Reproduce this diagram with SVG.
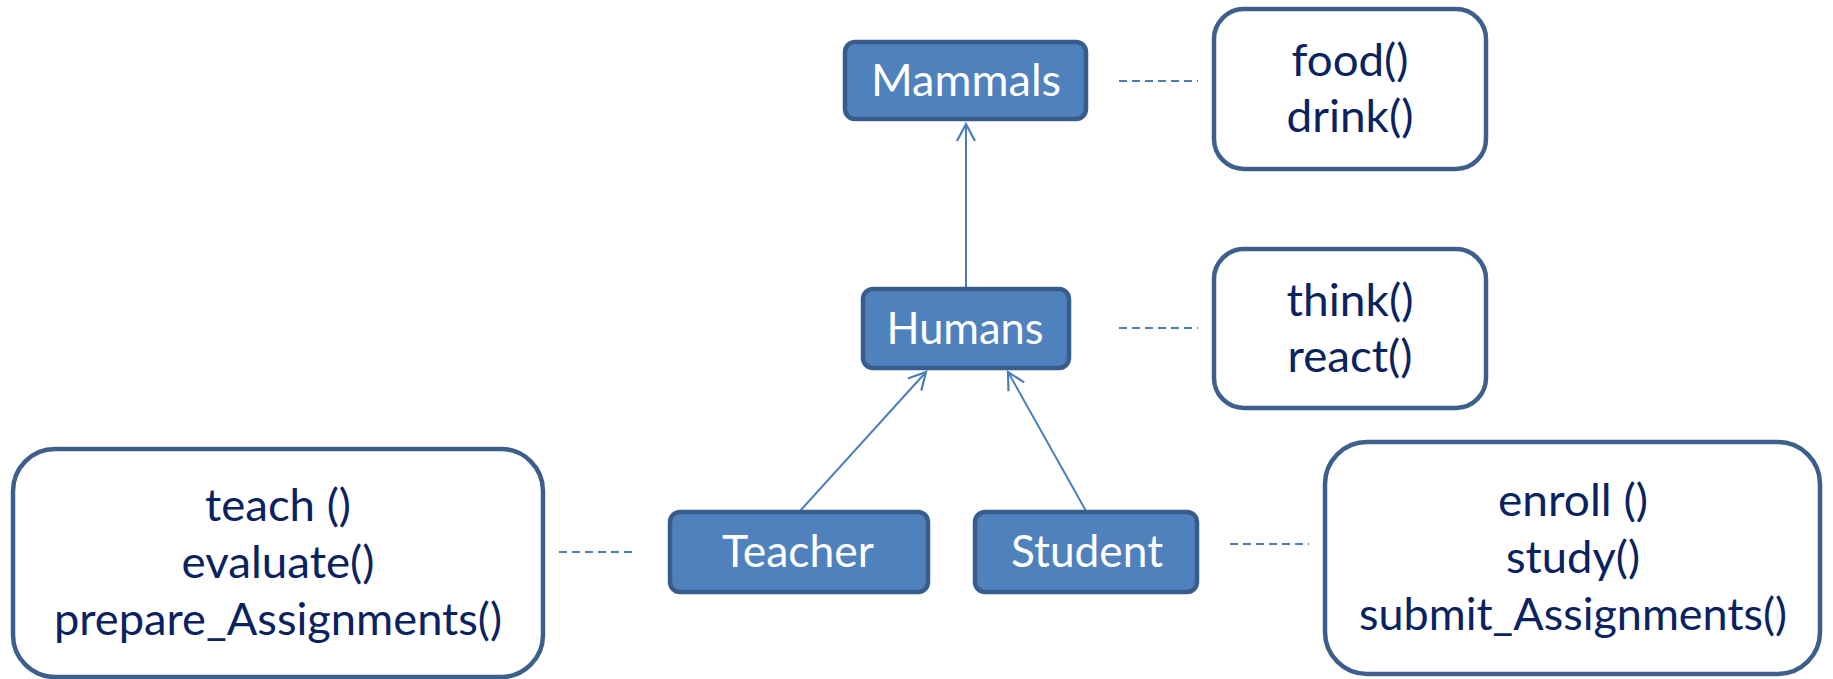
<svg xmlns="http://www.w3.org/2000/svg" width="1833" height="679" viewBox="0 0 1833 679">
  <style>
    .cls rect { fill: #4F81BD; stroke: #385D8A; stroke-width: 4.5; }
    .cls text { fill: #FFFFFF; font-family: Lato, "Open Sans", "Noto Sans", sans-serif; font-size: 44px; text-anchor: middle; }
    .ops rect { fill: #FFFFFF; stroke: #3D5F8C; stroke-width: 4.5; }
    .ops text { fill: #0B2260; font-family: Lato, "Open Sans", "Noto Sans", sans-serif; font-size: 44px; text-anchor: middle; }
    .inherit { stroke: #4A7EBB; stroke-width: 2; fill: none; marker-end: url(#open); }
    .assoc { stroke: #4A7EBB; stroke-width: 2; fill: none; stroke-dasharray: 8 5; }
  </style>
  <defs>
    <marker id="open" markerWidth="22" markerHeight="22" viewBox="-18 -11 22 22" refX="0" refY="0" orient="auto" markerUnits="userSpaceOnUse">
      <path d="M -17 -9 L 0 0 L -17 9" fill="none" stroke="#4A7EBB" stroke-width="2.2"/>
    </marker>
  </defs>

  <rect width="1833" height="679" fill="#FFFFFF"/>

  <!-- inheritance and association lines -->
  <g id="connectors">
    <line class="inherit" x1="966" y1="287" x2="966" y2="124"/>
    <line class="inherit" x1="800" y1="511" x2="926" y2="372"/>
    <line class="inherit" x1="1086" y1="511" x2="1008" y2="372"/>
    <line class="assoc" x1="1119" y1="81" x2="1198" y2="81"/>
    <line class="assoc" x1="1119" y1="328" x2="1198" y2="328"/>
    <line class="assoc" x1="559" y1="552" x2="637" y2="552"/>
    <line class="assoc" x1="1230" y1="544" x2="1309" y2="544"/>
  </g>

  <!-- class boxes -->
  <g id="mammals" class="cls">
    <rect x="845" y="42" width="241" height="77" rx="10"/>
    <text x="966" y="96" textLength="190" lengthAdjust="spacingAndGlyphs">Mammals</text>
  </g>
  <g id="humans" class="cls">
    <rect x="863" y="289" width="206" height="79" rx="10"/>
    <text x="965" y="344" textLength="157" lengthAdjust="spacingAndGlyphs">Humans</text>
  </g>
  <g id="teacher" class="cls">
    <rect x="670" y="512" width="258" height="80" rx="10"/>
    <text x="798" y="567" textLength="152" lengthAdjust="spacingAndGlyphs">Teacher</text>
  </g>
  <g id="student" class="cls">
    <rect x="975" y="512" width="222" height="80" rx="10"/>
    <text x="1087" y="567" textLength="152" lengthAdjust="spacingAndGlyphs">Student</text>
  </g>

  <!-- operation boxes -->
  <g id="mammals-ops" class="ops">
    <rect x="1214" y="9" width="272" height="160" rx="30"/>
    <text x="1350" y="76" textLength="117" lengthAdjust="spacingAndGlyphs">food()</text>
    <text x="1350" y="132" textLength="127" lengthAdjust="spacingAndGlyphs">drink()</text>
  </g>
  <g id="humans-ops" class="ops">
    <rect x="1214" y="249" width="272" height="159" rx="30"/>
    <text x="1350" y="316" textLength="127" lengthAdjust="spacingAndGlyphs">think()</text>
    <text x="1350" y="372" textLength="125" lengthAdjust="spacingAndGlyphs">react()</text>
  </g>
  <g id="teacher-ops" class="ops">
    <rect x="13" y="449" width="530" height="228" rx="42"/>
    <text x="278" y="521" textLength="146" lengthAdjust="spacingAndGlyphs">teach ()</text>
    <text x="278" y="578" textLength="193" lengthAdjust="spacingAndGlyphs">evaluate()</text>
    <text x="278" y="635" textLength="448" lengthAdjust="spacingAndGlyphs">prepare_Assignments()</text>
  </g>
  <g id="student-ops" class="ops">
    <rect x="1325" y="442" width="495" height="232" rx="42"/>
    <text x="1573" y="516" textLength="150" lengthAdjust="spacingAndGlyphs">enroll ()</text>
    <text x="1573" y="573" textLength="134" lengthAdjust="spacingAndGlyphs">study()</text>
    <text x="1573" y="630" textLength="428" lengthAdjust="spacingAndGlyphs">submit_Assignments()</text>
  </g>
</svg>
